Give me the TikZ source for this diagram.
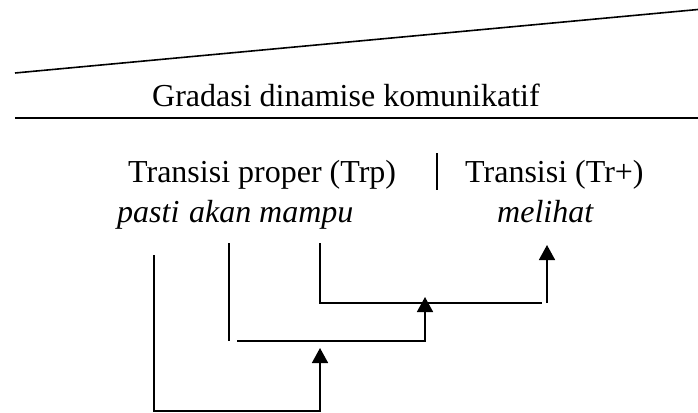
\documentclass[tikz,border=0pt]{standalone}
\usepackage{fontspec}
\setmainfont{Liberation Serif}
\usetikzlibrary{arrows.meta}
\begin{document}
\begin{tikzpicture}[x=1pt,y=-1pt,
  txt/.style={inner sep=0pt,anchor=base west,font=\fontsize{32}{38}\selectfont},
  itx/.style={txt,font=\fontsize{32}{38}\selectfont\itshape},
  rule/.style={line width=1.6pt},
  conn/.style={line width=1.6pt},
  arr/.style={conn,-{Triangle[width=16pt,length=15pt]}}]
\useasboundingbox (0,0) rectangle (698,412);
% top rules
\coordinate (sl1) at (15,73);
\coordinate (sl2) at (698,9.5);
\coordinate (hl1) at (15,118);
\coordinate (hl2) at (698,118);
\draw[rule] (sl1) -- (sl2);
\draw[rule] (hl1) -- (hl2);
\node[txt] (grad) at (152,106) {Gradasi dinamise komunikatif};
% headings
\node[txt] (trp) at (128,182) {Transisi proper (Trp)};
\node[txt] (trplus) at (465,182) {Transisi (Tr+)};
\coordinate (sepA) at (437,153);
\coordinate (sepB) at (437,190);
\draw[line width=2pt] (sepA) -- (sepB);
% words
\node[itx] (pasti) at (117,222) {pasti};
\node[itx] (akan) at (189,222) {akan};
\node[itx] (mampu) at (259,222) {mampu};
\node[itx] (melihat) at (497,222) {melihat};
% connectors
\coordinate (ps) at (154,255);
\coordinate (pc) at (154,411);
\coordinate (pb) at (320,411);
\coordinate (pt) at (320,348);
\draw[arr] (ps) -- (pc) -- (pb) -- (pt);
\coordinate (ak1) at (229,243);
\coordinate (ak2) at (229,341);
\draw[conn] (ak1) -- (ak2);
\coordinate (ah) at (237,341);
\coordinate (ab) at (425,341);
\coordinate (at) at (425,297);
\draw[arr] (ah) -- (ab) -- (at);
\coordinate (mp1) at (320,243);
\coordinate (mp2) at (320,303);
\coordinate (mh) at (542,303);
\draw[conn] (mp1) -- (mp2) -- (mh);
\coordinate (ml) at (547,303);
\coordinate (mt) at (547,245);
\draw[arr] (ml) -- (mt);
\end{tikzpicture}
\end{document}
